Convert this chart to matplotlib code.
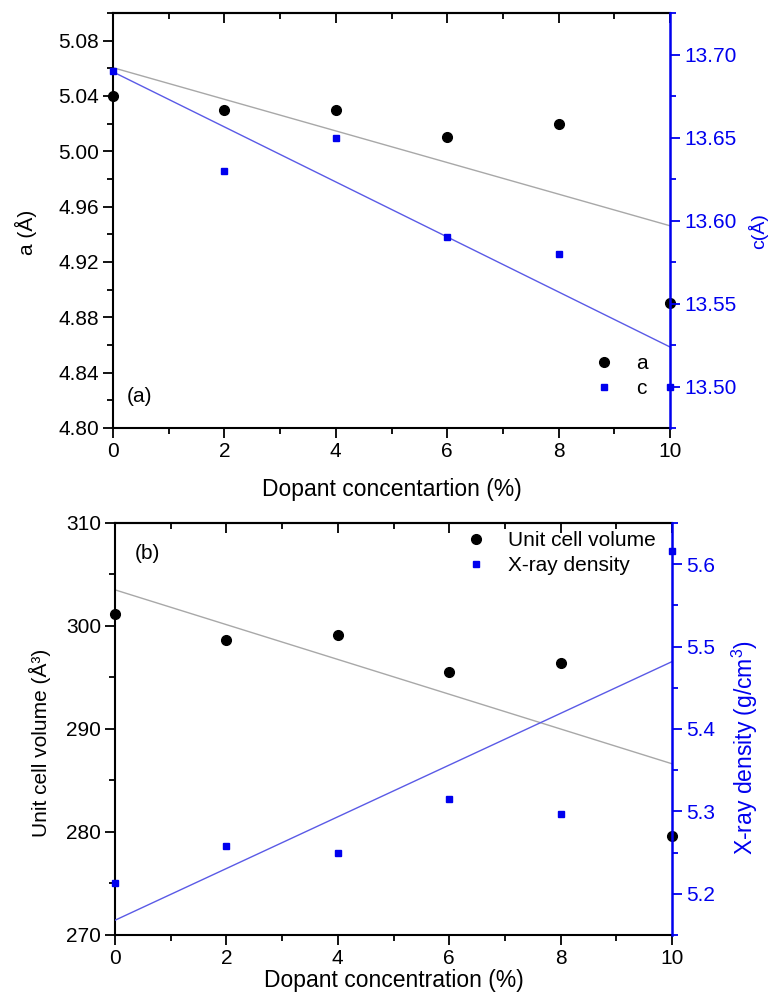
import numpy as np
import matplotlib
matplotlib.use("Agg")
import matplotlib.pyplot as plt
from matplotlib.ticker import MultipleLocator, FormatStrFormatter

plt.rcParams['font.family'] = ['Liberation Sans', 'DejaVu Sans']
plt.rcParams['mathtext.fontset'] = 'custom'
plt.rcParams['mathtext.rm'] = 'Liberation Sans'
plt.rcParams['mathtext.it'] = 'Liberation Sans:italic'
plt.rcParams['mathtext.bf'] = 'Liberation Sans:bold'

# ---- data ----
dopant = [0, 2, 4, 6, 8, 10]
lat_a = [5.04, 5.03, 5.03, 5.01, 5.02, 4.89]
lat_c = [13.69, 13.63, 13.65, 13.59, 13.58, 13.50]
cell_volume = [301.2, 298.6, 299.1, 295.5, 296.4, 279.6]
xray_density = [5.213, 5.258, 5.250, 5.315, 5.297, 5.616]

BLUE = '#0000ee'
FIT_GRAY = '#a8a8a8'
FIT_BLUE = '#5a5ae6'
FS = 15
FS_X = 16.5
FS_YL = 15

W, H = 772, 998
fig = plt.figure(figsize=(W / 100, H / 100), dpi=100)


def fig_rect(l, t, r, b):
    return [l / W, 1 - b / H, (r - l) / W, (b - t) / H]


def style_axes(ax, ax2, xmajor=2, xminor=1):
    ax.set_xlim(0, 10)
    ax.xaxis.set_major_locator(MultipleLocator(xmajor))
    ax.xaxis.set_minor_locator(MultipleLocator(xminor))
    ax.tick_params(axis='x', which='both', direction='out', top=False, labelsize=FS, pad=3)
    ax.tick_params(axis='x', which='major', length=7, width=1.3)
    ax.tick_params(axis='x', which='minor', length=4, width=1.3)
    ax.tick_params(axis='y', which='major', direction='out', length=7, width=1.3, labelsize=FS, pad=3)
    ax.tick_params(axis='y', which='minor', direction='out', length=4, width=1.3)
    sec = ax.secondary_xaxis('top')
    sec.xaxis.set_major_locator(MultipleLocator(xmajor))
    sec.xaxis.set_minor_locator(MultipleLocator(xminor))
    sec.tick_params(axis='x', which='both', direction='in', labeltop=False, width=1.3)
    sec.tick_params(axis='x', which='major', length=7)
    sec.tick_params(axis='x', which='minor', length=4)
    sec.spines['top'].set_linewidth(1.5)
    for s in ['left', 'bottom', 'top']:
        ax.spines[s].set_linewidth(1.5)
    ax2.spines['right'].set_color(BLUE)
    ax2.spines['right'].set_linewidth(1.8)
    for s in ['left', 'bottom', 'top']:
        ax2.spines[s].set_visible(False)
    ax.spines['right'].set_visible(False)
    ax2.tick_params(axis='y', which='both', colors=BLUE, direction='out', width=1.3, labelsize=FS, pad=3)
    ax2.tick_params(axis='y', which='major', length=7)
    ax2.tick_params(axis='y', which='minor', length=4)


# ---------------- panel (a) ----------------
ax = fig.add_axes(fig_rect(113, 13, 670, 428))
ax2 = ax.twinx()
style_axes(ax, ax2)

ax.set_ylim(4.80, 5.10)
ax.yaxis.set_major_locator(MultipleLocator(0.04))
ax.yaxis.set_minor_locator(MultipleLocator(0.02))
ax.yaxis.set_major_formatter(FormatStrFormatter('%.2f'))
ax2.set_ylim(13.475, 13.725)
ax2.yaxis.set_major_locator(MultipleLocator(0.05))
ax2.yaxis.set_minor_locator(MultipleLocator(0.025))
ax2.yaxis.set_major_formatter(FormatStrFormatter('%.2f'))

xfit = np.array([0, 10])
pa = np.polyfit(dopant, lat_a, 1)
pc = np.polyfit(dopant, lat_c, 1)
ax.plot(xfit, np.polyval(pa, xfit), color=FIT_GRAY, lw=1.0, zorder=2, clip_on=False)
ax2.plot(xfit, np.polyval(pc, xfit), color=FIT_BLUE, lw=1.0, zorder=2, clip_on=False)
h1, = ax.plot(dopant, lat_a, 'o', color='black', ms=7, ls='none', clip_on=False, zorder=5, label='a')
h2, = ax2.plot(dopant, lat_c, 's', color=BLUE, ms=5, ls='none', clip_on=False, zorder=5, label='c')

ax.set_ylabel('a (Å)', fontsize=FS_YL)
ax.yaxis.set_label_coords(-0.136, 0.472)
ax2.set_ylabel('c(Å)', fontsize=14, color=BLUE)
ax2.yaxis.set_label_coords(1.141, 0.475)
ax.set_xlabel('Dopant concentartion (%)', fontsize=FS_X, labelpad=12)
ax.text(0.025, 0.075, '(a)', transform=ax.transAxes, fontsize=FS, va='center', ha='left')

ax2.legend(handles=[h1, h2], frameon=False, fontsize=FS, loc='upper left',
           bbox_to_anchor=(594 / W, 1 - 354 / H), bbox_transform=fig.transFigure,
           borderpad=0, borderaxespad=0, handlelength=1.0, handletextpad=1.0,
           labelspacing=0.28)

# ---------------- panel (b) ----------------
bx = fig.add_axes(fig_rect(115, 523, 672, 935))
bx2 = bx.twinx()
style_axes(bx, bx2)

bx.set_ylim(270, 310)
bx.yaxis.set_major_locator(MultipleLocator(10))
bx.yaxis.set_minor_locator(MultipleLocator(5))
bx2.set_ylim(5.15, 5.65)
bx2.yaxis.set_major_locator(MultipleLocator(0.1))
bx2.yaxis.set_minor_locator(MultipleLocator(0.05))
bx2.yaxis.set_major_formatter(FormatStrFormatter('%.1f'))

pv = np.polyfit(dopant, cell_volume, 1)
pd_ = np.polyfit(dopant, xray_density, 1)
bx.plot(xfit, np.polyval(pv, xfit), color=FIT_GRAY, lw=1.0, zorder=2)
bx2.plot(xfit, np.polyval(pd_, xfit), color=FIT_BLUE, lw=1.0, zorder=2)
g1, = bx.plot(dopant, cell_volume, 'o', color='black', ms=7, ls='none', clip_on=False, zorder=5,
              label='Unit cell volume')
g2, = bx2.plot(dopant, xray_density, 's', color=BLUE, ms=5, ls='none', clip_on=False, zorder=5,
               label='X-ray density')

bx.set_ylabel('Unit cell volume (Å³)', fontsize=FS_YL)
bx.yaxis.set_label_coords(-0.115, 0.466)
bx2.set_ylabel('X-ray density (g/cm$^3$)', fontsize=FS_X, color=BLUE)
bx2.yaxis.set_label_coords(1.104, 0.456)
bx.set_xlabel('Dopant concentration (%)', fontsize=FS_X, labelpad=1)
bx.text(0.035, 0.925, '(b)', transform=bx.transAxes, fontsize=FS, va='center', ha='left')

bx2.legend(handles=[g1, g2], frameon=False, fontsize=FS, loc='upper left',
           bbox_to_anchor=(466 / W, 1 - 531 / H), bbox_transform=fig.transFigure,
           borderpad=0, borderaxespad=0, handlelength=1.0, handletextpad=1.0,
           labelspacing=0.3)

fig.savefig('out.png', dpi=100)
